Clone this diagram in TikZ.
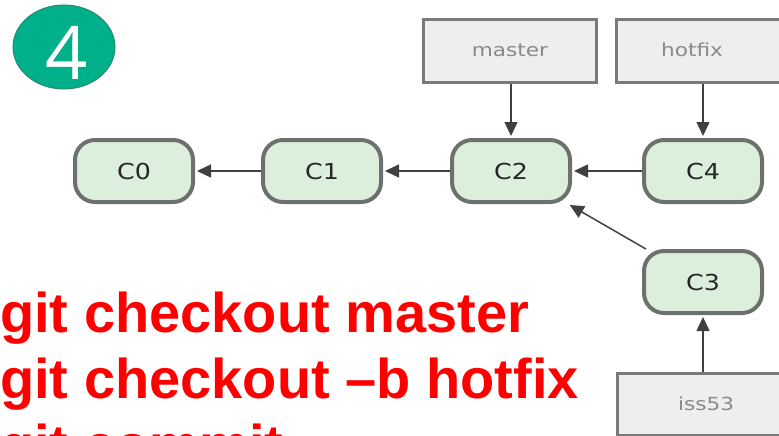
\documentclass[tikz,border=0pt]{standalone}
\usepackage{fontspec}
\setmainfont{Liberation Sans}
\newfontfamily\nodefont{DejaVu Sans}
\newfontfamily\numfont{Open Sans}
\usetikzlibrary{arrows.meta,shapes.geometric}
\definecolor{commitfill}{HTML}{DCEFDC}
\definecolor{commitdraw}{HTML}{6E706E}
\definecolor{branchfill}{HTML}{EEEEEC}
\definecolor{branchdraw}{HTML}{7A7A7A}
\definecolor{branchtext}{HTML}{8A8A8A}
\definecolor{badge}{HTML}{00B08A}
\definecolor{badgeedge}{HTML}{2A8A6E}
\definecolor{cmdred}{HTML}{FF0000}
\tikzset{
  commit/.style={draw=commitdraw, fill=commitfill, line width=4pt, rounded corners=20pt,
    minimum width=118pt, minimum height=62pt, inner sep=0pt,
    font=\nodefont\fontsize{22}{24}\selectfont, text=black!85},
  branch/.style={draw=branchdraw, fill=branchfill, line width=3pt, inner sep=0pt},
  blabel/.style={text=branchtext, font=\nodefont\fontsize{18}{20}\selectfont, inner sep=0pt},
  link/.style={draw=black!75, line width=1.5pt, -{Triangle[length=14pt,width=13pt]}, shorten >=2pt},
  cmd/.style={anchor=base west, inner sep=0pt, text=cmdred, font=\bfseries\fontsize{56}{60}\selectfont}
}
\newcommand{\wide}[1]{\scalebox{1.15}[1]{#1}}
\begin{document}
\begin{tikzpicture}[x=1pt,y=-1pt]
\useasboundingbox (0,0) rectangle (779,436);
\clip (0,0) rectangle (779,436);
% badge
\node[ellipse, draw=badgeedge, line width=1pt, fill=badge, minimum width=102pt, minimum height=84pt, inner sep=0pt] (badge) at (64,47) {};
\node[text=white, font=\numfont\fontsize{74}{74}\selectfont, inner sep=0pt] (four) at (67,53) {4};
% commits
\node[commit] (C0) at (134,171) {\wide{C0}};
\node[commit] (C1) at (322,171) {\wide{C1}};
\node[commit] (C2) at (511,171) {\wide{C2}};
\node[commit] (C4) at (703,171) {\wide{C4}};
\node[commit] (C3) at (703,282) {\wide{C3}};
% branches
\node[branch, minimum width=173pt, minimum height=63pt] (masterbox) at (510,51) {};
\node[blabel] (master) at (510,50) {\scalebox{1.2}[1]{master}};
\node[branch, minimum width=174pt, minimum height=63pt] (hotfixbox) at (703,51) {};
\node[blabel] (hotfix) at (692,50) {\scalebox{1.2}[1]{hotfix}};
\node[branch, minimum width=174pt, minimum height=62pt] (issbox) at (704,404) {};
\node[blabel] (iss) at (706,404) {\scalebox{1.2}[1]{iss53}};
% connectors
\draw[link] (C1) -- (C0);
\draw[link] (C2) -- (C1);
\draw[link] (C4) -- (C2);
\draw[link] (C3) -- (C2);
\draw[link] (masterbox.south -| C2) -- (C2);
\draw[link] (hotfixbox.south -| C4) -- (C4);
\draw[link] (issbox.north -| C3) -- (C3);
% commands
\node[cmd] (l1) at (0,332) {\scalebox{1.0}[1]{git checkout master}};
\node[cmd] (l2) at (0,398) {\scalebox{1.0}[1]{git checkout –b hotfix}};
\node[cmd] (l3) at (0,464) {\scalebox{1.0}[1]{git commit}};
\end{tikzpicture}
\end{document}
